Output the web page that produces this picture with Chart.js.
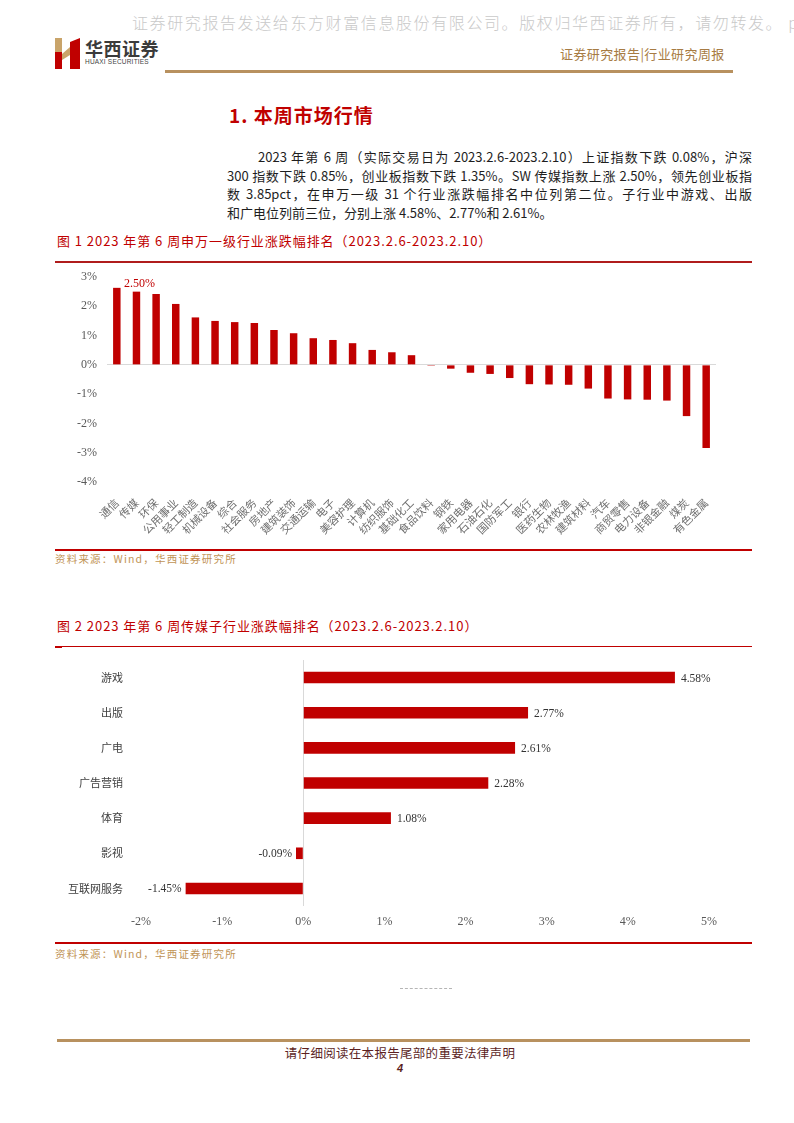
<!DOCTYPE html>
<html lang="zh-CN">
<head>
<meta charset="utf-8">
<title>传媒行业周报 第4页</title>
<script src="https://cdn.jsdelivr.net/npm/chart.js@4.4.1/dist/chart.umd.min.js"></script>
<style>
  html, body { margin: 0; padding: 0; background: #fff; }
  body { width: 794px; height: 1123px; position: relative; overflow: hidden; font-family: "Noto Sans CJK SC", sans-serif; }
  .abs { position: absolute; white-space: nowrap; }
  .watermark { left: 132px; top: 10px; font-size: 16px; letter-spacing: 1.6px; color: #c9c9c9; font-weight: 300; }
  .brand { left: 85px; top: 35px; font-size: 18px; font-weight: 700; color: #3b3b3b; letter-spacing: 0.5px; }
  .brand-en { left: 85px; top: 58px; font-family: "Liberation Sans", sans-serif; font-size: 6.5px; color: #444; letter-spacing: 0.2px; }
  .rpt-type { left: 560px; top: 44px; font-size: 13px; color: #a77b43; letter-spacing: 0.4px; }
  .rule { position: absolute; height: 0; }
  .h1 { left: 229px; top: 101px; font-size: 19px; font-weight: 700; color: #c00000; letter-spacing: 1px; }
  .para { position: absolute; left: 227px; top: 148px; width: 525px; font-size: 13px; color: #1e1e1e; }
  .para .ln { height: 18.5px; line-height: 18.5px; white-space: nowrap; overflow: visible; }
  .para .ln.just { text-align: justify; text-align-last: justify; }
  .fig-title { left: 57px; font-size: 13px; color: #c00000; letter-spacing: 0.95px; }
  .src { left: 55px; font-size: 10.5px; color: #bf9456; letter-spacing: 1.2px; }
  .chart-box { position: absolute; }
  .foot { left: 0; width: 800px; text-align: center; top: 1043px; font-size: 12.5px; color: #5c1f1f; letter-spacing: 0.3px; }
  .page-no { left: 0; width: 800px; text-align: center; top: 1062px; font-family: "Liberation Sans", sans-serif; font-size: 11px; font-weight: 700; font-style: italic; color: #5c1f1f; }
</style>
</head>
<body>

<div class="abs watermark">证券研究报告发送给东方财富信息股份有限公司。版权归华西证券所有，请勿转发。 p</div>

<svg class="abs" style="left:55px; top:38px" width="26" height="31" viewBox="0 0 26 31">
  <polygon points="0,0 7,0 7,14 0,14" fill="#c9a46a"/>
  <polygon points="0,14 7,14 7,31 0,31" fill="#c00000"/>
  <polygon points="7,16 15,9 15,17 7,22" fill="#c9a46a"/>
  <polygon points="15,4 25,0 25,31 15,31" fill="#c00000"/>
</svg>
<div class="abs brand">华西证券</div>
<div class="abs brand-en">HUAXI SECURITIES</div>
<div class="abs rpt-type">证券研究报告|行业研究周报</div>
<div class="rule" style="left:165px; top:70px; width:568px; border-top:3px solid #b8915f"></div>

<div class="abs h1">1. 本周市场行情</div>

<div class="para">
  <div class="ln just" style="padding-left:31px">2023 年第 6 周（实际交易日为 2023.2.6-2023.2.10）上证指数下跌 0.08%，沪深</div>
  <div class="ln just">300 指数下跌 0.85%，创业板指数下跌 1.35%。SW 传媒指数上涨 2.50%，领先创业板指</div>
  <div class="ln just">数 3.85pct，在申万一级 31 个行业涨跌幅排名中位列第二位。子行业中游戏、出版</div>
  <div class="ln">和广电位列前三位，分别上涨 4.58%、2.77%和 2.61%。</div>
</div>

<div class="abs fig-title" style="top:231px">图 1 2023 年第 6 周申万一级行业涨跌幅排名（2023.2.6-2023.2.10）</div>
<div class="rule" style="left:55px; top:261px; width:697px; border-top:2px solid #b01c1c"></div>
<div class="chart-box" style="left:55px; top:259px; width:700px; height:289px">
  <canvas id="industryChart" width="700" height="289"></canvas>
</div>
<div class="rule" style="left:55px; top:549px; width:697px; border-top:2px solid #c00000"></div>
<div class="abs src" style="top:551px">资料来源：Wind，华西证券研究所</div>

<div class="abs fig-title" style="top:616px">图 2 2023 年第 6 周传媒子行业涨跌幅排名（2023.2.6-2023.2.10）</div>
<div class="rule" style="left:55px; top:646px; width:697px; border-top:1px solid #c00000"></div>
<div class="rule" style="left:55px; top:646px; width:7px; border-top:2px solid #c00000"></div>
<div class="chart-box" style="left:55px; top:642px; width:700px; height:293px">
  <canvas id="mediaChart" width="700" height="293"></canvas>
</div>
<div class="rule" style="left:55px; top:942px; width:697px; border-top:2px solid #c00000"></div>
<div class="abs src" style="top:946px">资料来源：Wind，华西证券研究所</div>

<div class="rule" style="left:400px; top:988px; width:52px; border-top:1px dashed #b5b5b5"></div>
<div class="rule" style="left:57px; top:1039px; width:693px; border-top:3px solid #b8915f"></div>
<div class="abs foot">请仔细阅读在本报告尾部的重要法律声明</div>
<div class="abs page-no">4</div>

<script>
// 图1：申万一级行业周涨跌幅（%）
const industries = ['通信', '传媒', '环保', '公用事业', '轻工制造', '机械设备', '综合', '社会服务',
  '房地产', '建筑装饰', '交通运输', '电子', '美容护理', '计算机', '纺织服饰', '基础化工',
  '食品饮料', '钢铁', '家用电器', '石油石化', '国防军工', '银行', '医药生物', '农林牧渔',
  '建筑材料', '汽车', '商贸零售', '电力设备', '非银金融', '煤炭', '有色金属'];
const industryChange = [2.63, 2.50, 2.42, 2.08, 1.62, 1.50, 1.46, 1.43,
  1.19, 1.08, 0.91, 0.85, 0.74, 0.51, 0.43, 0.33,
  -0.03, -0.13, -0.27, -0.31, -0.45, -0.66, -0.67, -0.68,
  -0.81, -1.15, -1.18, -1.19, -1.22, -1.75, -2.84];
const industryTicks = [3, 2, 1, 0, -1, -2, -3, -4];

// 图2：传媒子行业周涨跌幅（%）
const subIndustries = ['游戏', '出版', '广电', '广告营销', '体育', '影视', '互联网服务'];
const subChange = [4.58, 2.77, 2.61, 2.28, 1.08, -0.09, -1.45];
const subTicks = [-2, -1, 0, 1, 2, 3, 4, 5];

const RED = '#c00000';
const SERIF = '"Liberation Serif", "Times New Roman", serif';
const CJK = '"Noto Sans CJK SC", sans-serif';

// fit paragraph lines to the column width
document.querySelectorAll('.para .ln').forEach(el => {
  const just = el.classList.contains('just');
  el.classList.remove('just');
  const range = document.createRange();
  range.selectNodeContents(el);
  const w = range.getBoundingClientRect().width;
  const pad = parseFloat(getComputedStyle(el).paddingLeft) || 0;
  const avail = el.clientWidth - pad;
  const n = el.textContent.length;
  if (w > avail) el.style.letterSpacing = ((avail - w) / n) + 'px';
  else if (just) el.classList.add('just');
});

// draws value text next to the bars
const valueLabels = {
  id: 'valueLabels',
  afterDatasetsDraw(chart, args, opts) {
    const ctx = chart.ctx;
    const meta = chart.getDatasetMeta(0);
    const data = chart.data.datasets[0].data;
    ctx.save();
    ctx.font = opts.font;
    ctx.fillStyle = opts.color;
    meta.data.forEach((bar, i) => {
      if (opts.only != null && i !== opts.only) return;
      const v = data[i];
      const txt = v.toFixed(2) + '%';
      if (chart.options.indexAxis === 'y') {
        ctx.textBaseline = 'middle';
        if (v >= 0) { ctx.textAlign = 'left'; ctx.fillText(txt, bar.x + 6, bar.y + 1); }
        else { ctx.textAlign = 'right'; ctx.fillText(txt, bar.x - 4, bar.y + 1); }
      } else {
        ctx.textAlign = 'center';
        ctx.textBaseline = 'bottom';
        ctx.fillText(txt, bar.x + 3, bar.y - 2);
      }
    });
    ctx.restore();
  }
};

const zeroOnly = c => (c.tick && c.tick.value === 0) ? '#d9d9d9' : 'rgba(0,0,0,0)';

new Chart(document.getElementById('industryChart'), {
  type: 'bar',
  data: {
    labels: industries,
    datasets: [{ data: industryChange, backgroundColor: RED, borderWidth: 0,
      barPercentage: 0.38, categoryPercentage: 1 }]
  },
  options: {
    responsive: false,
    devicePixelRatio: 1,
    animation: false,
    layout: { padding: { top: 18, right: 39, left: 0, bottom: 0 } },
    plugins: {
      legend: { display: false },
      tooltip: { enabled: false },
      valueLabels: { only: 1, font: '12px ' + SERIF, color: RED }
    },
    scales: {
      x: {
        grid: { display: false },
        border: { display: false },
        ticks: { autoSkip: false, minRotation: 45, maxRotation: 45, padding: 6,
          color: '#6f6f6f', font: { family: CJK, size: 11 } },
        afterFit: s => { s.height = 66; }
      },
      y: {
        min: -4, max: 3,
        afterBuildTicks: s => { s.ticks = industryTicks.map(v => ({ value: v })); },
        grid: { color: zeroOnly, drawTicks: false },
        border: { display: false },
        ticks: { padding: 10, color: '#595959', font: { family: SERIF, size: 12 },
          callback: v => v + '%' },
        afterFit: s => { s.width = 52; }
      }
    }
  },
  plugins: [valueLabels]
});

new Chart(document.getElementById('mediaChart'), {
  type: 'bar',
  data: {
    labels: subIndustries,
    datasets: [{ data: subChange, backgroundColor: RED, borderWidth: 0,
      barPercentage: 0.33, categoryPercentage: 1 }]
  },
  options: {
    indexAxis: 'y',
    responsive: false,
    devicePixelRatio: 1,
    animation: false,
    layout: { padding: { top: 18, right: 46, left: 0, bottom: 0 } },
    plugins: {
      legend: { display: false },
      tooltip: { enabled: false },
      valueLabels: { font: '11.5px ' + SERIF, color: '#333333' }
    },
    scales: {
      x: {
        min: -2, max: 5,
        afterBuildTicks: s => { s.ticks = subTicks.map(v => ({ value: v })); },
        grid: { color: zeroOnly, drawTicks: false },
        border: { display: false },
        ticks: { padding: 9, color: '#595959', font: { family: SERIF, size: 12 },
          callback: v => v + '%' },
        afterFit: s => { s.height = 29; }
      },
      y: {
        grid: { display: false },
        border: { display: false },
        ticks: { padding: 10, color: '#404040', font: { family: CJK, size: 11 } },
        afterFit: s => { s.width = 86; }
      }
    }
  },
  plugins: [valueLabels]
});
</script>
</body>
</html>
